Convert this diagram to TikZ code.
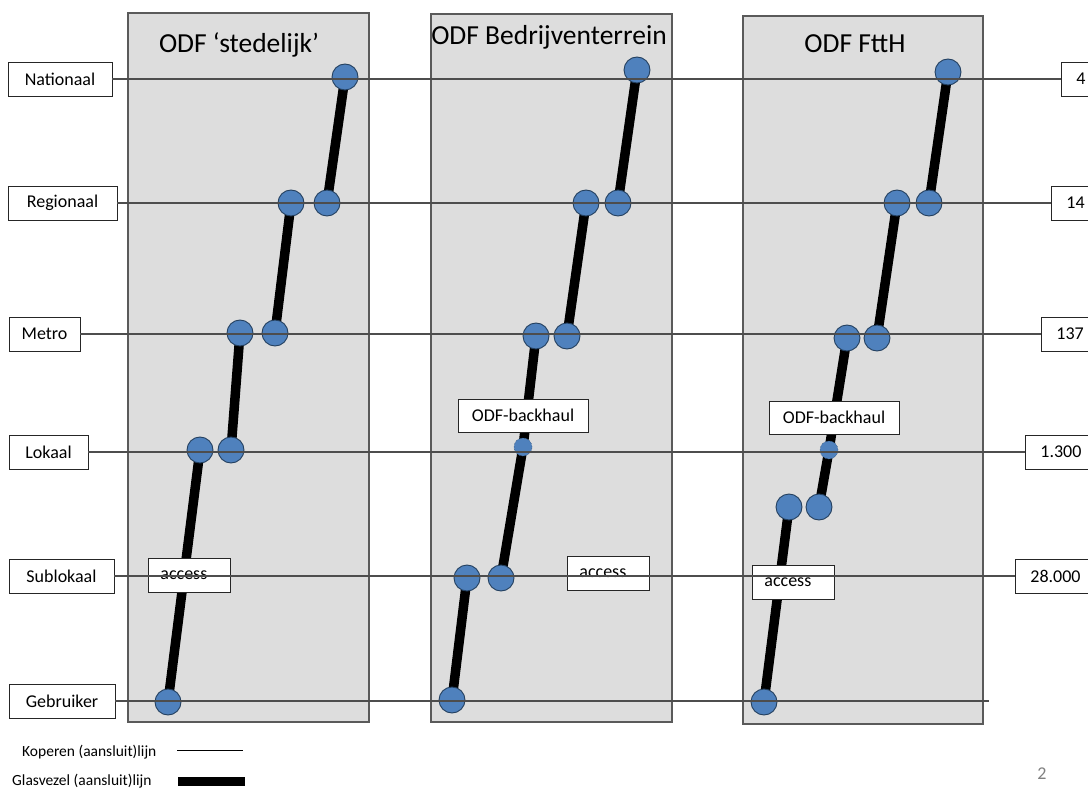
\documentclass[tikz,border=0pt]{standalone}
\usepackage{fontspec}
\setmainfont{Carlito}
\definecolor{odfblue}{HTML}{4F81BD}
\definecolor{odfedge}{HTML}{24405F}
\definecolor{panelfill}{HTML}{DDDDDD}
\definecolor{paneledge}{HTML}{5A5A5A}
\definecolor{copper}{HTML}{4D4D4D}
\pgfdeclarelayer{panels}
\pgfdeclarelayer{fibre}
\pgfdeclarelayer{copperlayer}
\pgfsetlayers{panels,fibre,main,copperlayer}
\begin{document}
\begin{tikzpicture}[x=1pt,y=-1pt,
  lbl/.style={draw=black!85, line width=0.8pt, fill=white, minimum height=34pt, inner sep=0pt, font=\fontsize{18}{20}\selectfont},
  num/.style={lbl, anchor=west, inner xsep=15pt, inner ysep=0pt},
  tag/.style={lbl, minimum height=34pt},
  acc/.style={lbl, anchor=west, inner xsep=12pt},
  title/.style={anchor=base, inner sep=0pt, font=\fontsize{27.5}{30}\selectfont},
  dot/.style={circle, fill=odfblue, draw=odfedge, line width=0.9pt, minimum size=26pt, inner sep=0pt},
  sdot/.style={circle, fill=odfblue, draw=odfblue!70!black, densely dotted, line width=0.6pt, minimum size=18pt, inner sep=0pt},
  panel/.style={fill=panelfill, draw=paneledge, line width=1.1pt},
  fib/.style={line width=9.5pt, black},
  cop/.style={line width=1.1pt, copper},
  legend/.style={anchor=west, inner sep=0pt, font=\fontsize{15.5}{17}\selectfont}
]
\useasboundingbox (0,0) rectangle (1088,789);

% panels
\begin{pgfonlayer}{panels}
  \fill[white] (0,0) rectangle (1088,789);
  \draw[panel] (128,13) rectangle (369,722);
  \draw[panel] (431,14) rectangle (672,722);
  \draw[panel] (743,16) rectangle (983,724);
\end{pgfonlayer}

% titles
\node[title] (t1) at (239,53) {ODF ‘stedelijk’};
\node[title] (t2) at (549,45) {ODF Bedrijventerrein};
\node[title] (t3) at (855,53) {ODF FttH};

% level labels
\node[lbl, minimum width=104pt] (nat) at (60,79) {Nationaal};
\node[lbl, minimum width=109pt] (reg) at (62.5,203) {Regionaal};
\node[lbl, minimum width=71pt] (met) at (44.5,334) {Metro};
\node[lbl, minimum width=79pt] (lok) at (48.5,452) {Lokaal};
\node[lbl, minimum width=105pt] (sub) at (61.5,576) {Sublokaal};
\node[lbl, minimum width=106pt] (geb) at (62,701) {Gebruiker};

% numbers
\node[num] (n4) at (1061,79) {4};
\node[num] (n14) at (1051,203) {14};
\node[num] (n137) at (1041,334) {137};
\node[num] (n1300) at (1025,452) {1.300};
\node[num] (n28) at (1015,576) {28.000};
\coordinate (gend) at (989,701);

% panel 1 dots
\node[dot] (a1) at (345,77) {};
\node[dot] (a2) at (327,203) {};
\node[dot] (a3) at (291,203) {};
\node[dot] (a4) at (275,333) {};
\node[dot] (a5) at (240,333) {};
\node[dot] (a6) at (231,450) {};
\node[dot] (a7) at (200,450) {};
\node[dot] (a8) at (168,702) {};
\node[acc] (acc1) at (148,575) {\makebox[58pt][l]{access}};

% panel 2 dots
\node[dot] (b1) at (637,70) {};
\node[dot] (b2) at (618,203) {};
\node[dot] (b3) at (586,203) {};
\node[dot] (b4) at (567,336) {};
\node[dot] (b5) at (536,336) {};
\node[sdot] (bs) at (523,447) {};
\node[dot] (b6) at (501,578) {};
\node[dot] (b7) at (467,578) {};
\node[dot] (b8) at (452,700) {};
\node[tag, minimum width=130pt, minimum height=33pt] (bh2) at (523,415.5) {ODF-backhaul};
\node[acc] (acc2) at (567,573.5) {\makebox[58pt][l]{access}};

% panel 3 dots
\node[dot] (c1) at (948,72) {};
\node[dot] (c2) at (929,203) {};
\node[dot] (c3) at (897,203) {};
\node[dot] (c4) at (877,338) {};
\node[dot] (c5) at (847,338) {};
\node[sdot] (cs) at (829,450) {};
\node[dot] (c6) at (819,507) {};
\node[dot] (c7) at (789,507) {};
\node[dot] (c8) at (764,702) {};
\node[tag, minimum width=130pt, minimum height=33pt] (bh3) at (834,417.5) {ODF-backhaul};
\node[acc] (acc3) at (752,582.5) {\makebox[58pt][l]{access}};

% fibre connections
\begin{pgfonlayer}{fibre}
  \draw[fib] (a1.center) -- (a2.center);
  \draw[fib] (a3.center) -- (a4.center);
  \draw[fib] (a5.center) -- (a6.center);
  \draw[fib] (a7.center) -- (a8.center);
  \draw[fib] (b1.center) -- (b2.center);
  \draw[fib] (b3.center) -- (b4.center);
  \draw[fib] (b5.center) -- (bs.center) -- (b6.center);
  \draw[fib] (b7.center) -- (b8.center);
  \draw[fib] (c1.center) -- (c2.center);
  \draw[fib] (c3.center) -- (c4.center);
  \draw[fib] (c5.center) -- (cs.center) -- (c6.center);
  \draw[fib] (c7.center) -- (c8.center);
\end{pgfonlayer}

% copper level lines
\begin{pgfonlayer}{copperlayer}
  \draw[cop] (nat.east) -- (n4.west);
  \draw[cop] (reg.east) -- (n14.west);
  \draw[cop] (met.east) -- (n137.west);
  \draw[cop] (lok.east) -- (n1300.west);
  \draw[cop] (sub.east) -- (n28.west);
  \draw[cop] (geb.east) -- (gend);
\end{pgfonlayer}

% legend
\node[legend] (lk) at (22,752) {Koperen (aansluit)lijn};
\node[legend] (lg) at (12,781) {Glasvezel (aansluit)lijn};
\coordinate (k1) at (177,750);
\coordinate (k2) at (243,750);
\coordinate (g1) at (178,781.5);
\coordinate (g2) at (245,781.5);
\draw[line width=0.9pt, black] (k1) -- (k2);
\draw[line width=9pt, black] (g1) -- (g2);

% page number
\node[inner sep=0pt, text=black!50, font=\fontsize{18}{20}\selectfont] (pg) at (1042,774) {2};
\end{tikzpicture}
\end{document}
